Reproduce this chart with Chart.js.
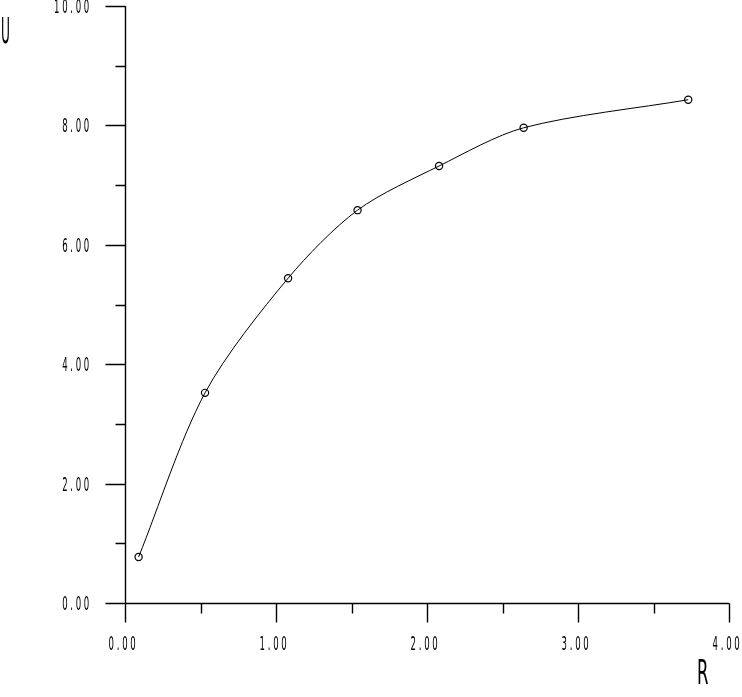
<!DOCTYPE html>
<html>
<head>
<meta charset="utf-8">
<script src="https://cdn.jsdelivr.net/npm/chart.js@4"></script>
<style>
  html, body { margin: 0; padding: 0; background: #fff; }
  #wrap { width: 742px; height: 697px; }
</style>
</head>
<body>
<div id="wrap"><canvas id="chart"></canvas></div>
<script>
// measured points (R, U)
const rValues = [0.09, 0.53, 1.08, 1.54, 2.08, 2.64, 3.73];
const uValues = [0.77, 3.52, 5.44, 6.58, 7.32, 7.96, 8.43];

// axis ticks
const xMajor = [0, 1, 2, 3, 4];
const xMinor = [0.5, 1.5, 2.5, 3.5];
const xTickLabels = ['0.00', '1.00', '2.00', '3.00', '4.00'];
const yMajor = [0, 2, 4, 6, 8, 10];
const yMinor = [1, 3, 5, 7, 9];
const yTickLabels = ['0.00', '2.00', '4.00', '6.00', '8.00', '10.00'];

const FONT = "'DejaVu Sans', sans-serif";

// narrow, spaced-out text like the plotter font of the original
function narrowText(ctx, text, x, y, size, sx, spacing, align) {
  ctx.save();
  ctx.translate(x, y);
  ctx.scale(sx, 1);
  ctx.font = size + 'px ' + FONT;
  ctx.letterSpacing = spacing + 'px';
  ctx.textAlign = align;
  ctx.textBaseline = 'middle';
  ctx.fillText(text, 0, 0);
  ctx.restore();
}

// axis lines, tick marks, tick labels and the U / R captions
const axesPlugin = {
  id: 'axesPlugin',
  afterDraw(chart) {
    const ctx = chart.ctx;
    const xs = chart.scales.x, ys = chart.scales.y;
    const x0 = Math.round(xs.getPixelForValue(0)) + 0.5;
    const y0 = Math.round(ys.getPixelForValue(0)) + 0.5;
    ctx.save();
    ctx.strokeStyle = '#000';
    ctx.lineWidth = 1.4;
    ctx.beginPath();
    ctx.moveTo(x0, Math.round(ys.getPixelForValue(10)));
    ctx.lineTo(x0, y0 + 19);
    ctx.moveTo(x0 - 20, y0);
    ctx.lineTo(Math.round(xs.getPixelForValue(4)) + 0.5, y0);
    yMajor.forEach(v => {
      const p = Math.round(ys.getPixelForValue(v)) + 0.5;
      ctx.moveTo(x0 - 20, p); ctx.lineTo(x0, p);
    });
    yMinor.forEach(v => {
      const p = Math.round(ys.getPixelForValue(v)) + 0.5;
      ctx.moveTo(x0 - 10, p); ctx.lineTo(x0, p);
    });
    xMajor.forEach(v => {
      const p = Math.round(xs.getPixelForValue(v)) + 0.5;
      ctx.moveTo(p, y0); ctx.lineTo(p, y0 + 19);
    });
    xMinor.forEach(v => {
      const p = Math.round(xs.getPixelForValue(v)) + 0.5;
      ctx.moveTo(p, y0); ctx.lineTo(p, y0 + 10);
    });
    ctx.stroke();

    ctx.fillStyle = '#000';
    yMajor.forEach((v, i) => {
      narrowText(ctx, yTickLabels[i], 92, ys.getPixelForValue(v) + 2, 19, 0.45, 6, 'right');
    });
    xMajor.forEach((v, i) => {
      narrowText(ctx, xTickLabels[i], xs.getPixelForValue(v) - 1.5, 645, 19, 0.45, 6, 'center');
    });

    narrowText(ctx, 'U', 1, 34, 36, 0.34, 0, 'left');
    narrowText(ctx, 'R', 697, 675.5, 33, 0.5, 0, 'left');
    ctx.restore();
  }
};

new Chart(document.getElementById('chart'), {
  type: 'line',
  data: {
    datasets: [{
      data: rValues.map((r, i) => ({ x: r, y: uValues[i] })),
      borderColor: '#000',
      borderWidth: 1,
      tension: 0.3,
      pointRadius: 3.6,
      pointHoverRadius: 3.6,
      pointBorderWidth: 1.2,
      pointBorderColor: '#000',
      pointBackgroundColor: 'rgba(0,0,0,0)',
      fill: false
    }]
  },
  options: {
    responsive: true,
    maintainAspectRatio: false,
    animation: false,
    events: [],
    layout: { padding: { top: 6, right: 13, left: 0, bottom: 0 } },
    plugins: {
      legend: { display: false },
      tooltip: { enabled: false }
    },
    scales: {
      x: {
        type: 'linear',
        min: 0,
        max: 4,
        grid: { display: false },
        border: { display: false },
        ticks: { display: false },
        afterBuildTicks: s => { s.ticks = xMajor.map(v => ({ value: v })); },
        afterFit: s => { s.height = 94; s.paddingLeft = 0; s.paddingRight = 0; }
      },
      y: {
        min: 0,
        max: 10,
        grid: { display: false },
        border: { display: false },
        ticks: { display: false },
        afterBuildTicks: s => { s.ticks = yMajor.map(v => ({ value: v })); },
        afterFit: s => { s.width = 125; s.paddingTop = 0; s.paddingBottom = 0; }
      }
    }
  },
  plugins: [axesPlugin]
});
</script>
</body>
</html>
